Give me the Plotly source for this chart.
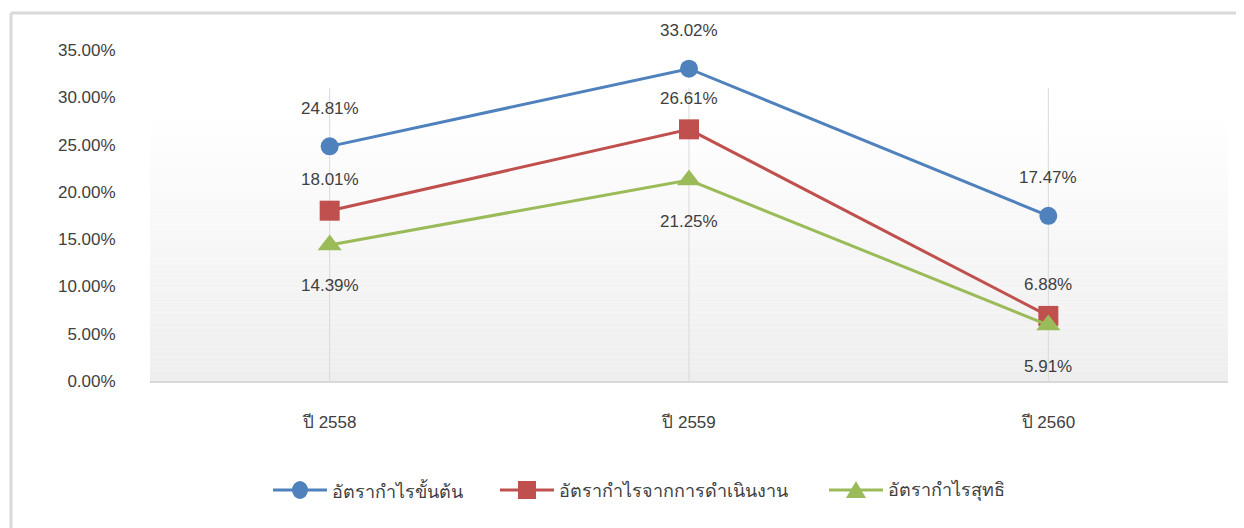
import plotly.graph_objects as go

categories = ["ปี 2558", "ปี 2559", "ปี 2560"]
series_names = ["อัตรากำไรขั้นต้น", "อัตรากำไรจากการดำเนินงาน", "อัตรากำไรสุทธิ"]
gross = [24.81, 33.02, 17.47]
operating = [18.01, 26.61, 6.88]
net = [14.39, 21.25, 5.91]
y_ticks = [0, 5, 10, 15, 20, 25, 30, 35]

colors = ["#4f81bd", "#c0504d", "#9bbb59"]
symbols = ["circle", "square", "triangle-up"]
sizes = [18, 20, 21]
label_shift = [38, 31, -41]

OFF = 8  # default page body margin
W, H = 1244 - OFF, 528 - OFF
ML, MR, MT, MB = 150 - OFF, 16, 50 - OFF, 147
PW, PH = W - ML - MR, H - MT - MB
FONT = "Liberation Sans, Arial, Noto Sans, sans-serif"
AREA_TOP = 31.0  # top of the shaded plot area (data units)
TXT = "#404040"

# legend layout (page pixels)
LEG_X = [273, 500, 829]
LEG_Y = 490
LEG_LINE = 54


def px_x(px):
    return (px - OFF - ML) / PW


def px_y(py):
    return (H - MB - (py - OFF)) / PH


fig = go.Figure()

all_series = [gross, operating, net]
for name, vals, c, s, sz in zip(series_names, all_series, colors, symbols, sizes):
    fig.add_trace(go.Scatter(
        x=categories, y=vals, name=name, mode="lines+markers",
        line=dict(color=c, width=3),
        marker=dict(symbol=s, size=sz, color=c),
        cliponaxis=False, showlegend=False,
    ))

annotations = []
for vals, shift in zip(all_series, label_shift):
    for cat, v in zip(categories, vals):
        annotations.append(dict(
            x=cat, y=v, text=f"{v:.2f}%", showarrow=False, yshift=shift,
            font=dict(family=FONT, size=17, color=TXT),
        ))

shapes = []
# gradient background of plot area (white top -> light grey bottom)
N = 60
for i in range(N):
    y0 = AREA_TOP * i / N
    y1 = AREA_TOP * (i + 1) / N
    t = (i + 0.5) / N  # 0 bottom -> 1 top
    g = round(0xee + (0xff - 0xee) * min(1.0, t * 1.1))
    shapes.append(dict(type="rect", xref="paper", yref="y", x0=0, x1=1, y0=y0, y1=y1,
                       fillcolor=f"rgb({g},{g},{g})", line=dict(width=0), layer="below"))
# vertical category gridlines
for cat in categories:
    shapes.append(dict(type="line", xref="x", yref="y", x0=cat, x1=cat, y0=0, y1=AREA_TOP,
                       line=dict(color="#d9d9d9", width=1), layer="below"))
# outer chart border (top and left edges visible)
shapes += [
    dict(type="line", xref="paper", yref="paper", x0=px_x(11), x1=px_x(1250),
         y0=px_y(13), y1=px_y(13), line=dict(color="#d9d9d9", width=3), layer="below"),
    dict(type="line", xref="paper", yref="paper", x0=px_x(11), x1=px_x(11),
         y0=px_y(13), y1=px_y(540), line=dict(color="#d9d9d9", width=3), layer="below"),
]

# custom legend: line + marker + label
for name, c, s, lx in zip(series_names, colors, symbols, LEG_X):
    shapes.append(dict(type="line", xref="paper", yref="paper",
                       x0=px_x(lx), x1=px_x(lx + LEG_LINE), y0=px_y(LEG_Y), y1=px_y(LEG_Y),
                       line=dict(color=c, width=3)))
    cx = lx + LEG_LINE / 2
    if s == "circle":
        shapes.append(dict(type="circle", xref="paper", yref="paper",
                           x0=px_x(cx - 8), x1=px_x(cx + 8), y0=px_y(LEG_Y + 9), y1=px_y(LEG_Y - 9),
                           fillcolor=c, line=dict(width=0)))
    elif s == "square":
        shapes.append(dict(type="rect", xref="paper", yref="paper",
                           x0=px_x(cx - 9), x1=px_x(cx + 9), y0=px_y(LEG_Y + 9), y1=px_y(LEG_Y - 9),
                           fillcolor=c, line=dict(width=0)))
    else:
        pts = [(cx - 10, LEG_Y + 8), (cx + 10, LEG_Y + 8), (cx, LEG_Y - 9)]
        path = "M " + " L ".join(f"{px_x(a):.5f},{px_y(b):.5f}" for a, b in pts) + " Z"
        shapes.append(dict(type="path", xref="paper", yref="paper", path=path,
                           fillcolor=c, line=dict(width=0)))
    annotations.append(dict(xref="paper", yref="paper", x=px_x(lx + LEG_LINE + 3), y=px_y(LEG_Y),
                            xanchor="left", yanchor="middle", text=name, showarrow=False,
                            font=dict(family=FONT, size=18, color=TXT)))

fig.update_layout(
    width=W, height=H,
    margin=dict(l=ML, r=MR, t=MT, b=MB),
    paper_bgcolor="white", plot_bgcolor="rgba(0,0,0,0)",
    font=dict(family=FONT, size=17, color=TXT),
    annotations=annotations, shapes=shapes,
    showlegend=False,
    xaxis=dict(type="category", categoryorder="array", categoryarray=categories,
               range=[-0.5, 2.5], showgrid=False,
               showline=True, linecolor="#d9d9d9", linewidth=2,
               ticks="outside", ticklen=25, tickcolor="rgba(0,0,0,0)",
               tickfont=dict(family=FONT, size=17, color=TXT), zeroline=False,
               fixedrange=True),
    yaxis=dict(range=[0, 35], tickvals=y_ticks, ticktext=[f"{t:.2f}%" for t in y_ticks],
               showgrid=False, zeroline=False, showline=False,
               ticks="outside", ticklen=30, tickcolor="rgba(0,0,0,0)",
               tickfont=dict(family=FONT, size=17, color=TXT), fixedrange=True),
)

fig.write_html("out.html")
